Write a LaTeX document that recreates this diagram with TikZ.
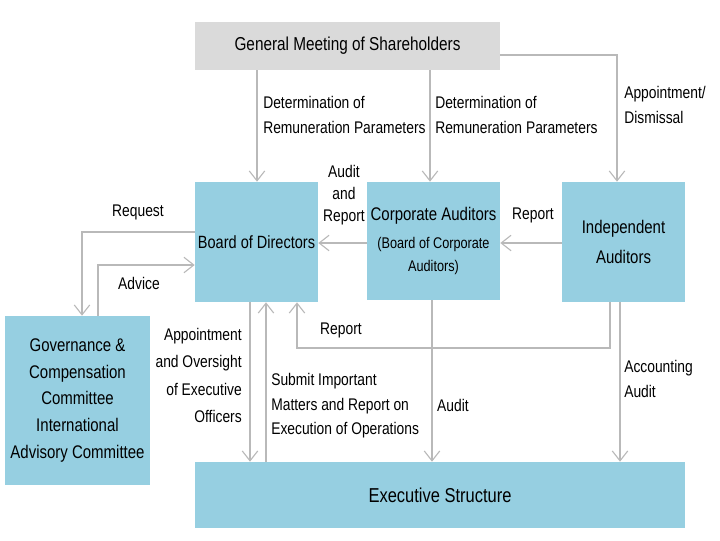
\documentclass[tikz,border=0pt]{standalone}
\usepackage{fontspec}
\setmainfont{Liberation Sans}[FakeStretch=0.82]
\usepackage{xcolor}
\usetikzlibrary{arrows.meta, positioning, calc}
\definecolor{boxblue}{RGB}{150,207,225}
\definecolor{boxgray}{RGB}{218,218,218}
\definecolor{linegray}{RGB}{185,185,185}
\begin{document}
\begin{tikzpicture}[
  x=0.025cm, y=-0.025cm,
  block/.style={rectangle, fill=boxblue, align=center, font=\fontsize{13}{20}\selectfont, inner sep=0pt},
  topblock/.style={block, fill=boxgray, font=\fontsize{13.3}{16}\selectfont},
  flow/.style={draw=linegray, line width=1.3pt, -{Straight Barb[length=7pt, width=11pt, line width=0.8pt]}},
  lbl/.style={font=\fontsize{12}{17.5}\selectfont, inner sep=0pt}
]
\useasboundingbox (0,0) rectangle (720,540);
\node[topblock, minimum width=7.625cm, minimum height=1.2cm] (gms) at (347.5,46) {General Meeting of Shareholders};
\node[block, minimum width=3.075cm, minimum height=3.0cm, font=\fontsize{12.6}{20}\selectfont] (board) at (256.5,242) {Board of Directors};
\node[block, minimum width=3.325cm, minimum height=2.95cm, font=\fontsize{13}{16}\selectfont] (corp) at (433.5,241) {Corporate Auditors\\[4pt]{\fontsize{11}{16}\selectfont (Board of Corporate}\\{\fontsize{11}{16}\selectfont Auditors)}};
\node[block, minimum width=3.075cm, minimum height=3.0cm, font=\fontsize{13}{21}\selectfont] (indep) at (623.5,242) {Independent\\Auditors};
\node[block, minimum width=3.625cm, minimum height=4.225cm, font=\fontsize{13}{19}\selectfont] (gov) at (77.5,400.5) {Governance \&\\Compensation\\Committee\\International\\Advisory Committee};
\node[block, minimum width=12.25cm, minimum height=1.65cm, font=\fontsize{14.3}{17}\selectfont] (exec) at (440,495) {Executive Structure};
% arrows from the meeting
\draw[flow] (gms.south -| 257,0) -- (board.north -| 257,0);
\draw[flow] (gms.south -| 430,0) -- (corp.north -| 430,0);
\draw[flow] (gms.east |- 0,55) -| (indep.north -| 617,0);
% between the boards
\draw[flow] (corp.west |- 0,243) -- (board.east |- 0,243);
\draw[flow] (indep.west |- 0,243) -- (corp.east |- 0,243);
\draw[flow] (board.west |- 0,232) -| (gov.north -| 82,0);
\draw[flow] (gov.north -| 98,0) |- (board.west |- 0,265);
\draw[flow] (indep.south -| 610,0) -- (610,348) -| (board.south -| 297,0);
% down to the executives
\draw[flow] (board.south -| 250,0) -- (exec.north -| 250,0);
\draw[flow] (exec.north -| 266,0) -- (board.south -| 266,0);
\draw[flow] (corp.south -| 432,0) -- (exec.north -| 432,0);
\draw[flow] (indep.south -| 620,0) -- (exec.north -| 620,0);
% labels
\node[lbl, anchor=north west, align=left] (detA) at (263,96) {Determination of\\Remuneration Parameters};
\node[lbl, anchor=north west, align=left] (detB) at (435,96) {Determination of\\Remuneration Parameters};
\node[lbl, anchor=north west, align=left] (appdis) at (624,86) {Appointment/\\Dismissal};
\node[lbl, align=center, font=\fontsize{12}{15.5}\selectfont] (audrep) at (344,195) {Audit\\and\\Report};
\node[lbl] (repA) at (533,215) {Report};
\node[lbl] (req) at (138,212) {Request};
\node[lbl] (adv) at (139,283) {Advice};
\node[lbl] (repB) at (341,330) {Report};
\node[lbl, anchor=north east, align=right, font=\fontsize{12}{19.5}\selectfont] (appov) at (242,328) {Appointment\\and Oversight\\of Executive\\Officers};
\node[lbl, anchor=north west, align=left] (submit) at (271,373) {Submit Important\\Matters and Report on\\Execution of Operations};
\node[lbl] (audit) at (453,405) {Audit};
\node[lbl, anchor=north west, align=left] (accaud) at (624,360) {Accounting\\Audit};
\end{tikzpicture}
\end{document}
